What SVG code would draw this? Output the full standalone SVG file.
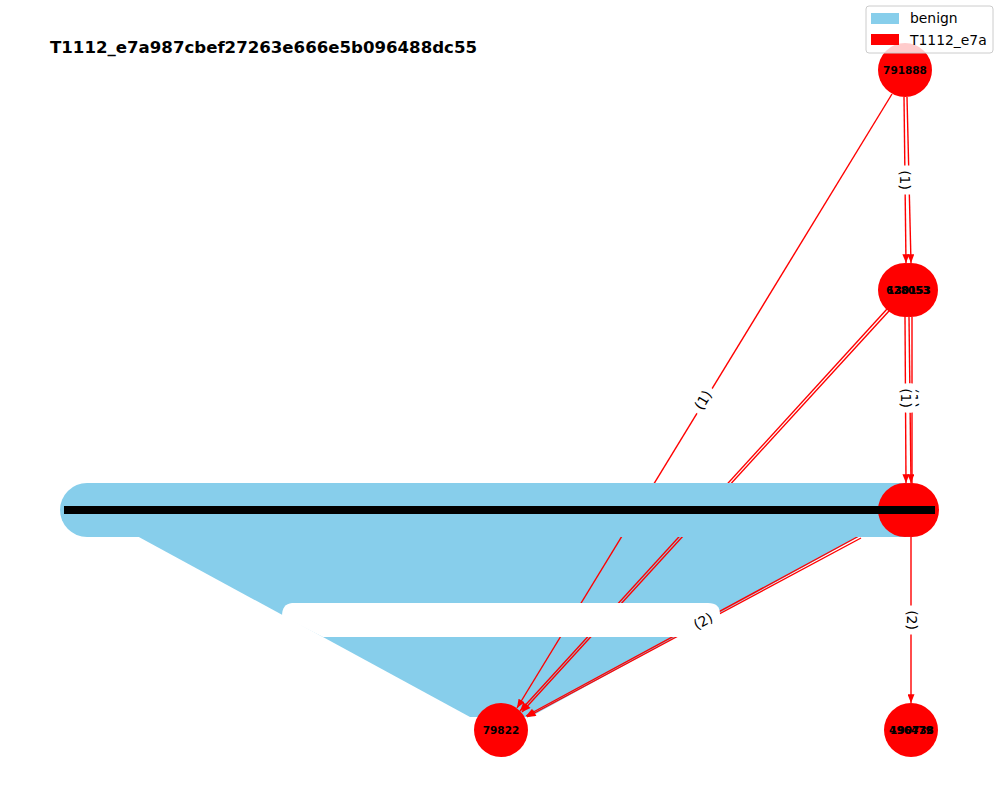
<svg xmlns="http://www.w3.org/2000/svg" width="1000" height="800" viewBox="0 0 1000 800">
<style>
.benign{fill:#87ceeb}
.mal{fill:#ff0000}
.edge{stroke:#ff0000;fill:none;stroke-width:1.4}
.nl{font-family:"DejaVu Sans",sans-serif;font-size:10.5px;font-weight:bold;fill:#000;text-anchor:middle;dominant-baseline:central}
.el{font-family:"DejaVu Sans",sans-serif;font-size:13.9px;fill:#000;text-anchor:middle;dominant-baseline:central}
.lb{fill:#fff;stroke:#fff}
.lg{font-family:"DejaVu Sans",sans-serif;font-size:13.9px;fill:#000}
</style>
<defs>
<marker id="arr" viewBox="0 0 10 8" refX="10" refY="4" markerWidth="10" markerHeight="7" markerUnits="userSpaceOnUse" orient="auto">
<path d="M0,0 L10,4 L0,8 Z" fill="#ff0000"/>
</marker>
</defs>
<rect width="1000" height="800" fill="#fff"/>
<text x="50" y="53" font-family="DejaVu Sans,sans-serif" font-size="16.6" font-weight="bold">T1112_e7a987cbef27263e666e5b096488dc55</text>

<g id="benign-fan">
<polygon class="benign" points="137,536 470,717 530,717 860,536"/>
</g>

<g id="edges">
<line class="edge" x1="904" y1="97" x2="906" y2="263" marker-end="url(#arr)"/>
<line class="edge" x1="907" y1="97" x2="911" y2="263" marker-end="url(#arr)"/>
<line class="edge" stroke-width="1.1" x1="892" y1="94" x2="517" y2="708" marker-end="url(#arr)"/>
<line class="edge" x1="905" y1="317" x2="906" y2="483" marker-end="url(#arr)"/>
<line class="edge" x1="909" y1="317" x2="911" y2="483" marker-end="url(#arr)"/>
<line class="edge" x1="912" y1="317" x2="912" y2="483"/>
<line class="edge" x1="887" y1="309" x2="520" y2="711" marker-end="url(#arr)"/>
<line class="edge" x1="889" y1="311" x2="522" y2="712" marker-end="url(#arr)"/>
<line class="edge" x1="859" y1="536" x2="526" y2="716" marker-end="url(#arr)"/>
<line class="edge" x1="861" y1="538" x2="527" y2="717" marker-end="url(#arr)"/>
<line class="edge" stroke-width="2" x1="911" y1="537" x2="911" y2="703" marker-end="url(#arr)"/>
</g>

<g id="benign-nodes">
<circle class="benign" cx="87" cy="510" r="27"/>
<rect class="benign" x="87" y="483" width="826" height="54"/>
</g>

<g id="n791888">
<circle class="mal" cx="905" cy="70" r="27"/>
<text class="nl" x="905" y="70">791888</text>
</g>
<g id="n628053">
<circle class="mal" cx="905" cy="290" r="27"/>
<circle class="mal" cx="911" cy="290" r="27"/>
<text class="nl" x="908" y="290">628053</text>
<text class="nl" x="909" y="290">130153</text>
</g>
<g id="n-row">
<circle class="mal" cx="905" cy="510" r="27"/>
<circle class="mal" cx="912" cy="510" r="27"/>
<rect x="64" y="506" width="871" height="8" fill="#000"/>
</g>
<g id="n79822">
<circle class="mal" cx="501" cy="730" r="27"/>
<text class="nl" x="501" y="730">79822</text>
</g>
<g id="n496479">
<circle class="mal" cx="911" cy="730" r="27"/>
<text class="nl" x="911" y="730">496479</text>
<text class="nl" x="912" y="730">190738</text>
</g>

<g id="edge-labels">
<path fill="#fff" d="M292,603 L708,603 Q720,603 720,614 L720,627 Q720,637 708,637 L323,637 L282,616 Q282,604 292,603 Z"/>
<g transform="translate(703,621) rotate(-28)">
<rect class="lb" x="-14" y="-10" width="28" height="20" rx="4"/>
<text class="el" x="0" y="0">(2)</text>
</g>
<g transform="translate(905,180) rotate(90)">
<rect class="lb" x="-14" y="-10" width="28" height="20" rx="4"/>
<text class="el" x="0" y="0">(1)</text>
</g>
<g transform="translate(703,400) rotate(-58.5)">
<rect class="lb" x="-14" y="-10" width="28" height="20" rx="4"/>
<text class="el" x="0" y="0">(1)</text>
</g>
<g transform="translate(913,398) rotate(90)">
<rect class="lb" x="-14" y="-10" width="28" height="20" rx="4"/>
<text class="el" x="0" y="0">(1)</text>
</g>
<g transform="translate(906,398) rotate(90)">
<rect class="lb" x="-14" y="-9" width="28" height="18" rx="4"/>
<text class="el" x="0" y="0">(1)</text>
</g>
<g transform="translate(912,620) rotate(90)">
<rect class="lb" x="-14" y="-10" width="28" height="20" rx="4"/>
<text class="el" x="0" y="0">(2)</text>
</g>
</g>

<g id="legend">
<rect x="866" y="6" width="127" height="47" rx="3" fill="#fff" fill-opacity="0.8" stroke="#cccccc"/>
<rect class="benign" x="871" y="13" width="28" height="11"/>
<text class="lg" x="910" y="23">benign</text>
<rect class="mal" x="871" y="34" width="28" height="11"/>
<text class="lg" x="910" y="45">T1112_e7a</text>
</g>
</svg>
